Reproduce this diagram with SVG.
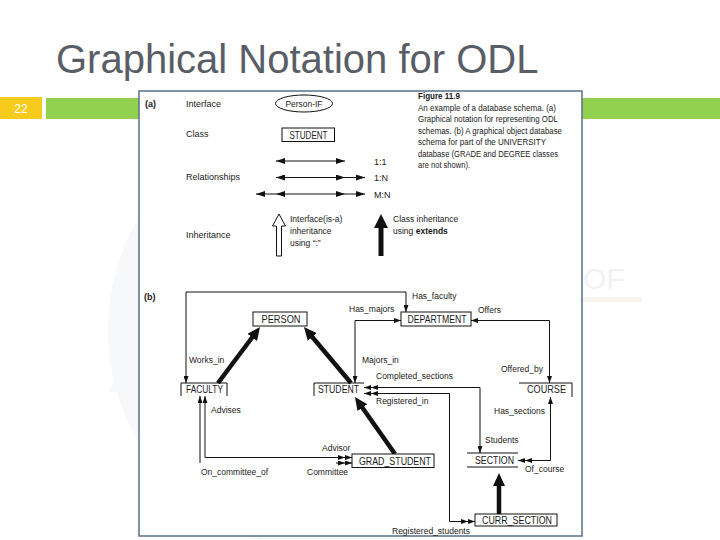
<svg xmlns="http://www.w3.org/2000/svg" width="720" height="540" viewBox="0 0 720 540">
<style>
.t{font-family:"Liberation Sans",Arial,sans-serif;fill:#1a1a1a}
.lbl{font-size:8.5px}
.nd{font-size:10px}
.hd{font-size:9px}
.cap{font-size:8.5px}
.ln{fill:none;stroke:#111;stroke-width:1}
.box{fill:#fff;stroke:#111;stroke-width:1}
.thick{stroke:#111;stroke-width:4.5;fill:none}
</style>
<defs>
<marker id="s" viewBox="0 0 7 5" refX="7" refY="2.5" markerWidth="7" markerHeight="5" markerUnits="userSpaceOnUse" orient="auto-start-reverse"><path d="M0,0L7,2.5L0,5z" fill="#111"/></marker>
<marker id="d" viewBox="0 0 14 5" refX="14" refY="2.5" markerWidth="14" markerHeight="5" markerUnits="userSpaceOnUse" orient="auto-start-reverse"><path d="M0,0L7,2.5L0,5zM7,0L14,2.5L7,5z" fill="#111"/></marker>
<marker id="r" viewBox="0 0 9 6" refX="9" refY="3" markerWidth="9" markerHeight="6" markerUnits="userSpaceOnUse" orient="auto-start-reverse"><path d="M0,0L9,3L0,6z" fill="#111"/></marker>
<marker id="big" viewBox="0 0 13 12" refX="3" refY="6" markerWidth="13" markerHeight="12" markerUnits="userSpaceOnUse" orient="auto"><path d="M0,0L13,6L0,12z" fill="#111"/></marker>
</defs>
<rect x="0" y="0" width="720" height="540" fill="#fff"/>
<g id="watermark" opacity="0.35">
<circle cx="330" cy="330" r="222" fill="#e9ecf2"/>
<path d="M108,345 L139,345 L139,392 L108,392 L124,368 Z" fill="#e9ecf2"/>
<rect x="582" y="297" width="60" height="5" fill="#ece4d4"/>
<text x="583" y="289" font-family="Liberation Sans,Arial,sans-serif" font-size="30" fill="#d8dbe2">OF</text>
</g>
<g id="slide">
<text x="56" y="73" font-family="Liberation Sans,Arial,sans-serif" font-size="40" fill="#595e66">Graphical Notation for ODL</text>
<rect x="0" y="97" width="42" height="22" fill="#f7cb1c"/>
<text x="21" y="113" text-anchor="middle" font-family="Liberation Sans,Arial,sans-serif" font-size="12" fill="#fff">22</text>
<rect x="46" y="98" width="674" height="21" fill="#92d050"/>
<rect x="139" y="91" width="443" height="445" fill="#fff" stroke="#56708c" stroke-width="1.5"/>
</g>
<g id="caption" class="t cap">
<text x="418" y="99" font-weight="bold" font-size="9" textLength="42" lengthAdjust="spacingAndGlyphs">Figure 11.9</text>
<text x="418" y="110.5" textLength="138" lengthAdjust="spacingAndGlyphs">An example of a database schema. (a)</text>
<text x="418" y="122" textLength="140" lengthAdjust="spacingAndGlyphs">Graphical notation for representing ODL</text>
<text x="418" y="133.5" textLength="144" lengthAdjust="spacingAndGlyphs">schemas. (b) A graphical object database</text>
<text x="418" y="145" textLength="128" lengthAdjust="spacingAndGlyphs">schema for part of the UNIVERSITY</text>
<text x="418" y="156.5" textLength="140" lengthAdjust="spacingAndGlyphs">database (GRADE and DEGREE classes</text>
<text x="418" y="168" textLength="52" lengthAdjust="spacingAndGlyphs">are not shown).</text>
</g>
<g id="legend" class="t hd">
<text x="145" y="107" font-weight="bold">(a)</text>
<text x="186" y="107">Interface</text>
<text x="186" y="137">Class</text>
<text x="186" y="180">Relationships</text>
<text x="186" y="238">Inheritance</text>
<ellipse cx="304" cy="103.5" rx="28.5" ry="8.5" class="box"/>
<text x="304" y="107" text-anchor="middle" font-size="9" textLength="37" lengthAdjust="spacingAndGlyphs">Person-IF</text>
<rect x="282" y="128" width="52.5" height="13.5" class="box"/>
<text x="308.5" y="139" text-anchor="middle" font-size="10" textLength="38" lengthAdjust="spacingAndGlyphs">STUDENT</text>
<line x1="276" y1="161" x2="345" y2="161" class="ln" marker-start="url(#r)" marker-end="url(#r)"/>
<line x1="276" y1="177.5" x2="345" y2="177.5" class="ln" marker-start="url(#r)" marker-end="url(#r)"/>
<line x1="345" y1="177.5" x2="365" y2="177.5" class="ln" marker-end="url(#r)"/>
<line x1="256" y1="194" x2="276" y2="194" class="ln" marker-start="url(#r)"/>
<line x1="276" y1="194" x2="345" y2="194" class="ln" marker-start="url(#r)" marker-end="url(#r)"/>
<line x1="345" y1="194" x2="365" y2="194" class="ln" marker-end="url(#r)"/>
<text x="374" y="164.5">1:1</text>
<text x="374" y="181">1:N</text>
<text x="374" y="197.5">M:N</text>
<polygon points="279,214 285.5,226 281.5,226 281.5,256 276.5,256 276.5,226 272.5,226" fill="#fff" stroke="#111" stroke-width="1"/>
<polygon points="381,214 388,228 383.5,228 383.5,256 378.5,256 378.5,228 374,228" fill="#111"/>
<text x="290" y="222" font-size="8.5">Interface(is-a)</text>
<text x="290" y="234" font-size="8.5">inheritance</text>
<text x="290" y="246" font-size="8.5">using “:”</text>
<text x="393" y="222" font-size="8.5">Class inheritance</text>
<text x="393" y="234" font-size="8.5">using <tspan font-weight="bold">extends</tspan></text>
</g>
<text class="t hd" x="144" y="300" font-weight="bold">(b)</text>
<g id="connectors">
<path d="M186,383 V292 H406 V312" class="ln" marker-start="url(#s)" marker-end="url(#s)"/>
<path d="M401,320.5 H355 V383" class="ln" marker-start="url(#s)" marker-end="url(#s)"/>
<path d="M471,320.5 H549.5 V383" class="ln" marker-start="url(#s)" marker-end="url(#s)"/>
<path d="M364,387.5 H480 V453" class="ln" marker-start="url(#d)" marker-end="url(#s)"/>
<path d="M364,393.5 H449.5 V521.5 H475" class="ln" marker-start="url(#d)" marker-end="url(#d)"/>
<path d="M550.5,397 V460.5 H518" class="ln" marker-start="url(#s)" marker-end="url(#d)"/>
<path d="M205,396 V457.5 H352" class="ln" marker-start="url(#s)" marker-end="url(#d)"/>
<path d="M200,396 V463" class="ln" marker-start="url(#s)"/>
<path d="M336,463 H352" class="ln" marker-end="url(#d)"/>
<line x1="218" y1="383" x2="254" y2="335" class="thick" marker-end="url(#big)"/>
<line x1="351" y1="383" x2="310.4" y2="334.7" class="thick" marker-end="url(#big)"/>
<line x1="395" y1="454" x2="360.7" y2="405.2" class="thick" marker-end="url(#big)"/>
<line x1="499" y1="514" x2="499" y2="483" class="thick" marker-end="url(#big)"/>
</g>
<g id="labels" class="t lbl">
<text x="189" y="363">Works_in</text>
<text x="412" y="299">Has_faculty</text>
<text x="349" y="312">Has_majors</text>
<text x="478" y="313">Offers</text>
<text x="362" y="363">Majors_in</text>
<text x="501" y="372">Offered_by</text>
<text x="376" y="379">Completed_sections</text>
<text x="376" y="404">Registered_in</text>
<text x="494" y="414">Has_sections</text>
<text x="485" y="443">Students</text>
<text x="211" y="413">Advises</text>
<text x="322" y="451">Advisor</text>
<text x="525" y="472">Of_course</text>
<text x="201" y="475">On_committee_of</text>
<text x="307" y="475">Committee</text>
<text x="392" y="534">Registered_students</text>
</g>
<g id="PERSON">
<rect x="253" y="312" width="54" height="14" class="box"/>
<text class="t nd" x="281" y="323" text-anchor="middle" textLength="39" lengthAdjust="spacingAndGlyphs">PERSON</text>
</g>
<g id="DEPARTMENT">
<rect x="401" y="312" width="70" height="14" class="box"/>
<text class="t nd" x="437" y="323" text-anchor="middle" textLength="59" lengthAdjust="spacingAndGlyphs">DEPARTMENT</text>
</g>
<g id="FACULTY">
<path d="M181,396 V383 H227 V396" class="ln"/>
<text class="t nd" x="204.5" y="393" text-anchor="middle" textLength="37" lengthAdjust="spacingAndGlyphs">FACULTY</text>
</g>
<g id="STUDENT">
<path d="M314,396 V383 H364" class="ln"/>
<text class="t nd" x="338.5" y="393" text-anchor="middle" textLength="41" lengthAdjust="spacingAndGlyphs">STUDENT</text>
</g>
<g id="COURSE">
<path d="M519,383 H572 V397" class="ln"/>
<text class="t nd" x="546.5" y="393" text-anchor="middle" textLength="39" lengthAdjust="spacingAndGlyphs">COURSE</text>
</g>
<g id="SECTION">
<path d="M467,453 H518 M467,467 H518" class="ln"/>
<text class="t nd" x="494.5" y="464" text-anchor="middle" textLength="39" lengthAdjust="spacingAndGlyphs">SECTION</text>
</g>
<g id="GRAD_STUDENT">
<rect x="352" y="454" width="82" height="13.5" class="box"/>
<text class="t nd" x="395" y="464.5" text-anchor="middle" textLength="72" lengthAdjust="spacingAndGlyphs">GRAD_STUDENT</text>
</g>
<g id="CURR_SECTION">
<rect x="475" y="514" width="82" height="12" class="box"/>
<text class="t nd" x="517" y="523.5" text-anchor="middle" textLength="70" lengthAdjust="spacingAndGlyphs">CURR_SECTION</text>
</g>
</svg>
